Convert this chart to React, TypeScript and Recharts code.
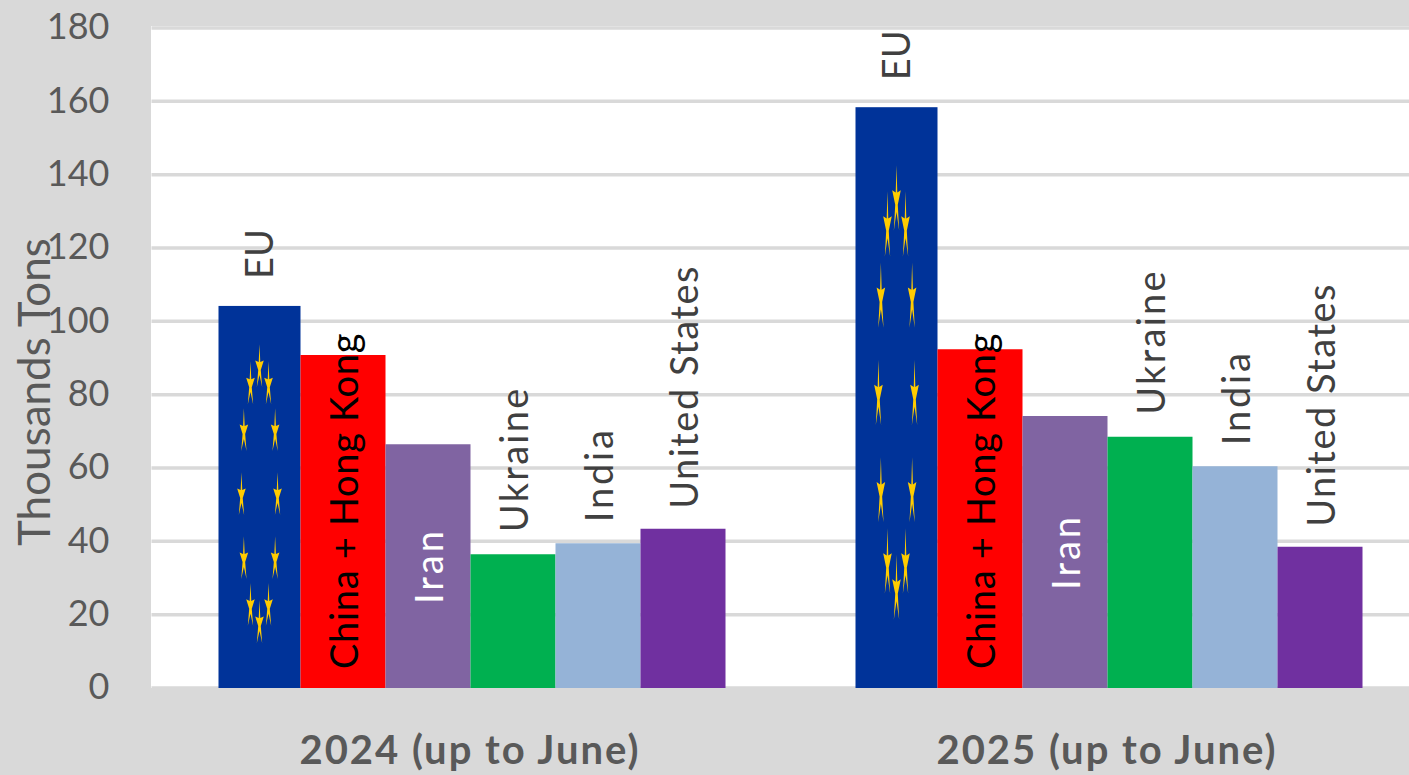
import { Bar, BarChart, CartesianGrid, LabelList, XAxis, YAxis } from "recharts";

const periods = ["2024 (up to June)", "2025 (up to June)"];
const eu = [104.2, 158.4];
const china = [90.8, 92.4];
const iran = [66.5, 74.2];
const ukraine = [36.5, 68.5];
const india = [39.5, 60.5];
const unitedStates = [43.4, 38.5];
const yTicks = [0, 20, 40, 60, 80, 100, 120, 140, 160, 180];

const data = periods.map((period, i) => ({
    period,
    eu: eu[i],
    china: china[i],
    iran: iran[i],
    ukraine: ukraine[i],
    india: india[i],
    unitedStates: unitedStates[i],
}));

const FONT = "Lato, Carlito, sans-serif";

// rotated country name, placed like the office chart does it
function countryLabel(name: string, mode: string, color: string, gap: number, spacing: number) {
    return (props: any) => {
        const cx = props.x + props.width / 2;
        let y = props.y - gap;
        let anchor = "start";
        if (mode === "center") {
            y = props.y + props.height / 2;
            anchor = "middle";
        }
        if (mode === "base") {
            y = props.y + props.height - gap;
        }
        return (
            <text
                x={cx}
                y={y}
                transform={`rotate(-90 ${cx} ${y})`}
                textAnchor={anchor}
                dominantBaseline="central"
                fontFamily={FONT}
                fontSize={38}
                letterSpacing={spacing}
                fill={color}
            >
                {name}
            </text>
        );
    };
}

// EU bar with the ring of twelve stars, stretched with the bar
function EuBar(props: any) {
    const { x, y, width, height } = props;
    const left = x + 3;
    const w = width - 3;
    const cx = left + w / 2;
    const cy = y + height * 0.497;
    const stars = [];
    for (let i = 0; i < 12; i++) {
        const a = (i * Math.PI) / 6;
        const sx = cx + Math.sin(a) * w * 0.22;
        const sy = cy - Math.cos(a) * height * 0.335;
        const pts = [];
        for (let k = 0; k < 10; k++) {
            const r = k % 2 === 0 ? 1 : 0.3;
            const b = (k * Math.PI) / 5;
            pts.push(`${sx + Math.sin(b) * r * w * 0.055},${sy - Math.cos(b) * r * height * 0.062}`);
        }
        stars.push(<polygon key={i} points={pts.join(" ")} fill="#ffcc00" />);
    }
    return (
        <g>
            <rect x={left} y={y} width={w} height={height} fill="#003399" />
            {stars}
        </g>
    );
}

export default function App() {
    return (
        <div style={{ position: "fixed", left: 0, top: 0, width: 1409, height: 775, background: "#d9d9d9", overflow: "hidden" }}>
            <div style={{ position: "absolute", left: 151, top: 26, width: 1258, height: 662, background: "#ffffff" }} />
            <BarChart
                width={1409}
                height={775}
                data={data}
                margin={{ top: 28, right: 0, bottom: 0, left: 0 }}
                barSize={85}
                barGap={0}
            >
                <CartesianGrid vertical={false} stroke="#d9d9d9" strokeWidth={3.5} />
                <XAxis
                    dataKey="period"
                    height={87}
                    padding={{ left: 0, right: -16.5 }}
                    axisLine={false}
                    tickLine={false}
                    tickMargin={42}
                    interval={0}
                    tick={{ fill: "#595959", fontSize: 40, fontWeight: 700, fontFamily: FONT, letterSpacing: 2 }}
                />
                <YAxis
                    width={151.5}
                    domain={[0, 180]}
                    ticks={yTicks}
                    interval={0}
                    axisLine={false}
                    tickLine={false}
                    tickMargin={36}
                    tick={{ fill: "#595959", fontSize: 36, fontFamily: FONT, dy: -1.5 }}
                    label={{
                        value: "Thousands Tons",
                        angle: -90,
                        position: "insideLeft",
                        dx: 29,
                        dy: 188,
                        fill: "#595959",
                        fontSize: 44,
                        fontFamily: FONT,
                    }}
                />
                <Bar dataKey="eu" fill="#003399" shape={EuBar} isAnimationActive={false}>
                    <LabelList dataKey="eu" content={countryLabel("EU", "above", "#404040", 27, 0)} />
                </Bar>
                <Bar dataKey="china" fill="#ff0000" isAnimationActive={false}>
                    <LabelList dataKey="china" content={countryLabel("China + Hong Kong", "base", "#000000", 19, 0.7)} />
                </Bar>
                <Bar dataKey="iran" fill="#8064a2" isAnimationActive={false}>
                    <LabelList dataKey="iran" content={countryLabel("Iran", "center", "#ffffff", 0, 3)} />
                </Bar>
                <Bar dataKey="ukraine" fill="#00b050" isAnimationActive={false}>
                    <LabelList dataKey="ukraine" content={countryLabel("Ukraine", "above", "#404040", 22, 2.3)} />
                </Bar>
                <Bar dataKey="india" fill="#95b3d7" isAnimationActive={false}>
                    <LabelList dataKey="india" content={countryLabel("India", "above", "#404040", 21, 2.8)} />
                </Bar>
                <Bar dataKey="unitedStates" fill="#7030a0" isAnimationActive={false}>
                    <LabelList dataKey="unitedStates" content={countryLabel("United States", "above", "#404040", 20, 1.5)} />
                </Bar>
            </BarChart>
        </div>
    );
}
